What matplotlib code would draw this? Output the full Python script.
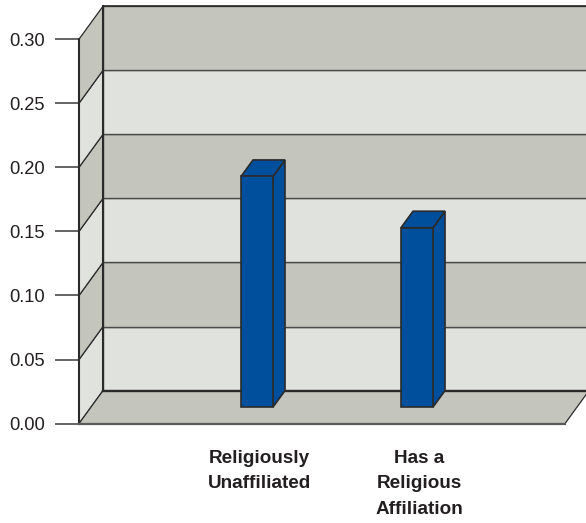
import matplotlib
matplotlib.use("Agg")
import matplotlib.pyplot as plt
from matplotlib.patches import Polygon

categories = ["Religiously\nUnaffiliated", "Has a\nReligious\nAffiliation"]
values = [0.18, 0.14]
tick_values = [0.00, 0.05, 0.10, 0.15, 0.20, 0.25, 0.30]
tick_labels = ["0.00", "0.05", "0.10", "0.15", "0.20", "0.25", "0.30"]

W, H = 586, 523
DARK = "#c4c6bd"
LIGHT = "#e0e2dd"
BLUE = "#004f9c"
INK = "#2b2a2a"
GREY = "#4a4a48"
TEXT = "#231f20"
FONT = "Liberation Sans"

fig = plt.figure(figsize=(W / 100, H / 100), dpi=100, facecolor="white")
x0, x1, y0, y1 = 79, 565, 423.6, 39.2
ax = fig.add_axes([x0 / W, 1 - y0 / H, (x1 - x0) / W, (y0 - y1) / H])
ax.set_xlim((x0 - 245) / 160, (x1 - 245) / 160)
ax.set_ylim(0, 0.30)
ax.patch.set_visible(False)
for s in ax.spines.values():
    s.set_visible(False)

# Oblique depth: one full unit of depth moves a point right and upwards.
DEPTH_X = 24 / 160
DEPTH_Y = 33 / (y0 - y1) * 0.30
xa, xb = ax.get_xlim()


def proj(x, v, d=0.0):
    return (x + d * DEPTH_X, v + d * DEPTH_Y)


def face(points, fc, lw=1.0, ec=GREY, z=1):
    ax.add_patch(Polygon([proj(*p) for p in points], closed=True, facecolor=fc,
                         edgecolor=ec, linewidth=lw, joinstyle="miter",
                         clip_on=False, zorder=z))


def edge(points, lw=1.5, color=INK, z=2.5):
    xs, ys = zip(*[proj(*p) for p in points])
    ax.plot(xs, ys, color=color, linewidth=lw, clip_on=False, zorder=z,
            solid_capstyle="projecting")


# Banded back wall and side wall
for i in range(len(tick_values) - 1):
    lo, hi = tick_values[i], tick_values[i + 1]
    fc = LIGHT if i % 2 == 0 else DARK
    face([(xa, lo, 1), (xb, lo, 1), (xb, hi, 1), (xa, hi, 1)], fc, z=1)
    face([(xa, lo, 0), (xa, lo, 1), (xa, hi, 1), (xa, hi, 0)], fc, lw=0.9, ec=INK, z=1)

# Floor
face([(xa, 0, 0), (xb, 0, 0), (xb, 0, 1), (xa, 0, 1)], DARK, lw=0.9, ec=INK, z=2)

# Heavier outlines along the wall corners and floor edges
top = tick_values[-1]
edge([(xa, 0, 0), (xa, top, 0)])
edge([(xa, 0, 1), (xa, top, 1)])
edge([(xa, top, 1), (xb, top, 1)], lw=1.2)
edge([(xa, 0, 1), (xb, 0, 1)], lw=1.7)
edge([(xa, 0, 0), (xb, 0, 0)], lw=1.6, color="#5a5a5a")

# Bars stand midway across the floor depth
half = 16 / 160
for x, v in zip(range(len(values)), values):
    d0, d1 = 0.5, 1.0
    face([(x + half, 0, d0), (x + half, 0, d1), (x + half, v, d1), (x + half, v, d0)],
         BLUE, lw=1.2, ec=INK, z=3)
    face([(x - half, v, d0), (x + half, v, d0), (x + half, v, d1), (x - half, v, d1)],
         BLUE, lw=1.2, ec=INK, z=3)
    face([(x - half, 0, d0), (x + half, 0, d0), (x + half, v, d0), (x - half, v, d0)],
         BLUE, lw=1.2, ec=INK, z=4)

ax.set_yticks(tick_values, tick_labels, fontsize=13.2, color=TEXT, family=FONT)
ax.tick_params(axis="y", length=17.3, width=1.2, color=GREY, pad=7.2)
ax.set_xticks(range(len(categories)))
ax.set_xticklabels([""] * len(categories))
ax.tick_params(axis="x", length=0)

# Category labels are centred below the bars
for x, label in zip(range(len(categories)), categories):
    ax.annotate(label, xy=(x, 0), xycoords=("data", "axes fraction"),
                xytext=(10.5, -19), textcoords="offset points", ha="center", va="top",
                fontsize=13.6, fontweight="bold", color=TEXT, family=FONT,
                linespacing=1.65, annotation_clip=False)

fig.savefig("out.png", dpi=100, facecolor="white")
